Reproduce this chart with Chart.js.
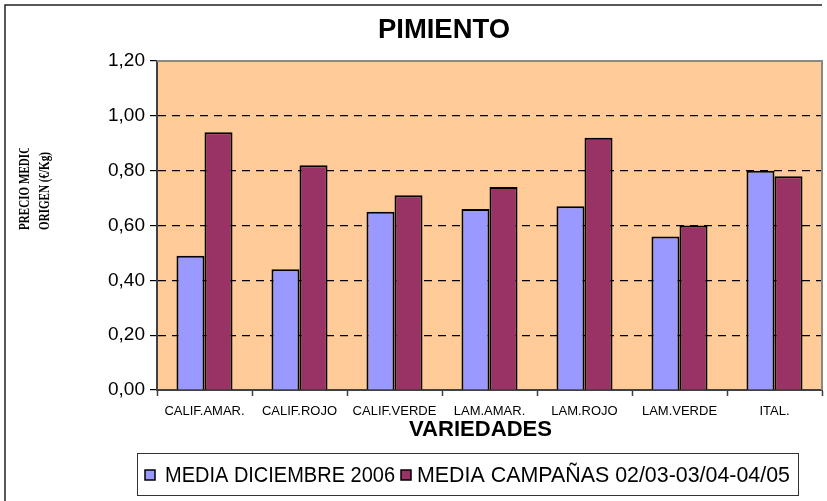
<!DOCTYPE html>
<html>
<head>
<meta charset="utf-8">
<script src="https://cdn.jsdelivr.net/npm/chart.js@4.4.0/dist/chart.umd.min.js"></script>
<style>
  html, body { margin: 0; padding: 0; background: #fff; }
  #wrap { width: 827px; height: 501px; }
</style>
</head>
<body>
<div id="wrap"><canvas id="chart" width="827" height="501"></canvas></div>
<script>
const VARIEDADES = ['CALIF.AMAR.', 'CALIF.ROJO', 'CALIF.VERDE', 'LAM.AMAR.', 'LAM.ROJO', 'LAM.VERDE', 'ITAL.'];
const MEDIA_DIC_2006 = [0.49, 0.44, 0.65, 0.66, 0.67, 0.56, 0.80];
const MEDIA_CAMPANAS = [0.94, 0.82, 0.71, 0.74, 0.92, 0.60, 0.78];
const Y_TICKS = [0, 0.2, 0.4, 0.6, 0.8, 1.0, 1.2];
const SERIES_NAMES = ['MEDIA DICIEMBRE 2006', 'MEDIA CAMPAÑAS 02/03-03/04-04/05'];

const SANS = '"Liberation Sans", Arial, sans-serif';
const SERIF = '"Liberation Serif", "Times New Roman", serif';

// texto estrechado/estirado a un ancho dado (el original usa letra condensada)
const fitText = (ctx, text, x, y, width) => {
  const w = ctx.measureText(text).width;
  ctx.save();
  ctx.translate(x, y);
  ctx.scale(width / w, 1);
  ctx.fillText(text, 0, 0);
  ctx.restore();
};

// fondo naranja, marco exterior
const backgroundPlugin = {
  id: 'background',
  beforeDraw(chart) {
    const { ctx, chartArea: a } = chart;
    ctx.save();
    ctx.fillStyle = '#fff';
    ctx.fillRect(0, 0, chart.width, chart.height);
    ctx.fillStyle = '#FFCC99';
    ctx.fillRect(a.left, a.top, a.right - a.left, a.bottom - a.top);
    ctx.strokeStyle = '#222';
    ctx.lineWidth = 1.5;
    ctx.beginPath();
    ctx.moveTo(5, chart.height);
    ctx.lineTo(5, 5);
    ctx.lineTo(822, 5);
    ctx.stroke();
    ctx.restore();
  }
};

// titulo, ejes, leyenda
const decorPlugin = {
  id: 'decor',
  afterDraw(chart) {
    const { ctx, chartArea: a } = chart;
    ctx.save();

    // borde gris arriba y derecha del area de trazado
    ctx.strokeStyle = '#888';
    ctx.lineWidth = 2;
    ctx.beginPath();
    ctx.moveTo(a.left, a.top);
    ctx.lineTo(a.right, a.top);
    ctx.lineTo(a.right, a.bottom);
    ctx.stroke();

    ctx.fillStyle = '#000';
    ctx.textBaseline = 'middle';
    ctx.textAlign = 'left';
    ctx.font = 'bold 27px ' + SANS;
    fitText(ctx, 'PIMIENTO', 378, 31, 132);

    ctx.font = 'bold 22px ' + SANS;
    fitText(ctx, 'VARIEDADES', 409, 430, 143);

    // titulo eje Y (recortado como en el original)
    ctx.save();
    ctx.beginPath();
    ctx.rect(10, 148, 60, 120);
    ctx.clip();
    ctx.translate(0, 230);
    ctx.rotate(-Math.PI / 2);
    ctx.font = 'bold 15px ' + SERIF;
    const sx = 78 / ctx.measureText('ORIGEN (€/Kg)').width;
    ctx.scale(sx, 1);
    ctx.fillText('PRECIO MEDIO', 0, 25);
    ctx.fillText('ORIGEN (€/Kg)', 0, 45);
    ctx.restore();

    // leyenda
    ctx.strokeStyle = '#333';
    ctx.lineWidth = 1;
    ctx.strokeRect(137.5, 453.5, 661, 42);
    ctx.font = '22px ' + SANS;
    const items = [
      { marker: 145, text: 165, width: 230 },
      { marker: 401, text: 417, width: 373 }
    ];
    chart.data.datasets.forEach((ds, i) => {
      const it = items[i];
      ctx.fillStyle = ds.backgroundColor;
      ctx.fillRect(it.marker, 470, 10, 10);
      ctx.strokeStyle = '#000';
      ctx.lineWidth = 1.5;
      ctx.strokeRect(it.marker, 470, 10, 10);
      ctx.fillStyle = '#000';
      fitText(ctx, ds.label, it.text, 476, it.width);
    });
    ctx.restore();
  }
};

new Chart(document.getElementById('chart'), {
  type: 'bar',
  data: {
    labels: VARIEDADES,
    datasets: [
      {
        label: SERIES_NAMES[0],
        data: MEDIA_DIC_2006,
        backgroundColor: '#9999FF',
        borderColor: '#000',
        borderWidth: 2,
        borderSkipped: 'bottom'
      },
      {
        label: SERIES_NAMES[1],
        data: MEDIA_CAMPANAS,
        backgroundColor: '#993366',
        borderColor: '#000',
        borderWidth: 2,
        borderSkipped: 'bottom'
      }
    ]
  },
  options: {
    responsive: false,
    animation: false,
    devicePixelRatio: 1,
    layout: {
      padding: { left: 97, top: 61, right: 5, bottom: 61 }
    },
    datasets: {
      bar: { categoryPercentage: 0.59, barPercentage: 1 }
    },
    scales: {
      x: {
        afterFit: (s) => { s.height = 50; },
        grid: {
          offset: true,
          drawOnChartArea: false,
          tickLength: 6,
          tickColor: '#404040',
          tickWidth: 1.5
        },
        border: { color: '#404040', width: 2 },
        ticks: {
          color: '#000',
          padding: 8,
          maxRotation: 0,
          autoSkip: false,
          font: { family: SANS, size: 13 }
        }
      },
      y: {
        min: 0,
        max: 1.2,
        afterFit: (s) => { s.width = 60; },
        afterBuildTicks: (s) => { s.ticks = Y_TICKS.map((v) => ({ value: v })); },
        grid: {
          color: (c) => (c.tick && (c.tick.value === 0 || c.tick.value === 1.2)) ? 'rgba(0,0,0,0)' : '#000',
          lineWidth: 1.2,
          tickLength: 7,
          tickColor: '#000',
          tickWidth: 1.2
        },
        border: { color: '#404040', width: 2, dash: [8, 6] },
        ticks: {
          color: '#000',
          padding: 5,
          font: { family: SANS, size: 19 },
          callback: (v) => Number(v).toFixed(2).replace('.', ',')
        }
      }
    },
    plugins: {
      legend: { display: false },
      title: { display: false },
      tooltip: { enabled: false }
    }
  },
  plugins: [backgroundPlugin, decorPlugin]
});
</script>
</body>
</html>
